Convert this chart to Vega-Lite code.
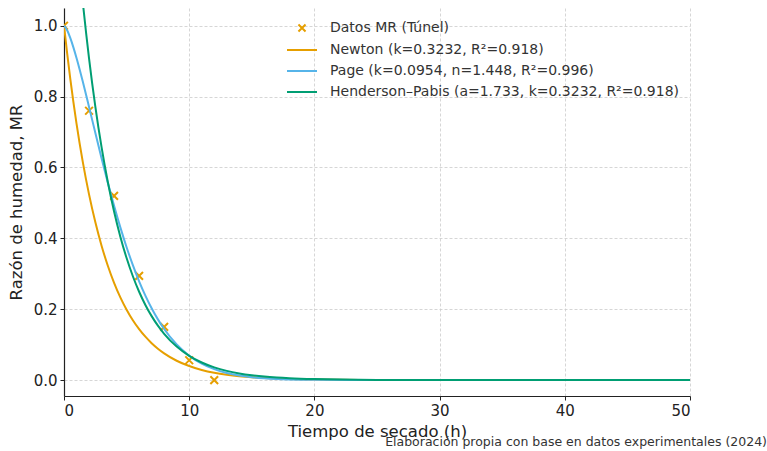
{
  "$schema": "https://vega.github.io/schema/vega-lite/v6.json",
  "width": 626,
  "height": 388,
  "autosize": "none",
  "padding": {"left": 64, "top": 8, "right": 77, "bottom": 55},
  "background": "white",
  "config": {
    "font": "DejaVu Sans",
    "view": {"stroke": null},
    "axis": {
      "labelFont": "DejaVu Sans", "titleFont": "DejaVu Sans",
      "labelFontSize": 15, "titleFontSize": 16.5, "titleFontWeight": "normal",
      "labelColor": "#222", "titleColor": "#222",
      "domainColor": "#222", "domainWidth": 1.2, "tickColor": "#222", "tickSize": 4, "tickWidth": 1,
      "gridColor": "#cccccc", "gridDash": [3, 2], "gridWidth": 0.8
    }
  },
  "title": {
    "text": "Elaboración propia con base en datos experimentales (2024)",
    "orient": "bottom", "anchor": "end", "frame": "group",
    "fontSize": 12.5, "fontWeight": "normal", "color": "#333", "font": "DejaVu Sans",
    "dx": 77, "offset": -4
  },
  "datasets": {
    "obs": [
      {"t": 0, "mr": 1.0, "series": "Datos MR (Túnel)"},
      {"t": 2, "mr": 0.76, "series": "Datos MR (Túnel)"},
      {"t": 4, "mr": 0.52, "series": "Datos MR (Túnel)"},
      {"t": 6, "mr": 0.294, "series": "Datos MR (Túnel)"},
      {"t": 8, "mr": 0.15, "series": "Datos MR (Túnel)"},
      {"t": 10, "mr": 0.056, "series": "Datos MR (Túnel)"},
      {"t": 12, "mr": 0.0, "series": "Datos MR (Túnel)"}
    ],
    "fit": [
      {"t": 0, "mr": 1.0, "series": "Newton (k=0.3232, R²=0.918)"},
      {"t": 0.25, "mr": 0.9224, "series": "Newton (k=0.3232, R²=0.918)"},
      {"t": 0.5, "mr": 0.8508, "series": "Newton (k=0.3232, R²=0.918)"},
      {"t": 1, "mr": 0.7238, "series": "Newton (k=0.3232, R²=0.918)"},
      {"t": 1.5, "mr": 0.6158, "series": "Newton (k=0.3232, R²=0.918)"},
      {"t": 2, "mr": 0.5239, "series": "Newton (k=0.3232, R²=0.918)"},
      {"t": 2.5, "mr": 0.4458, "series": "Newton (k=0.3232, R²=0.918)"},
      {"t": 3, "mr": 0.3792, "series": "Newton (k=0.3232, R²=0.918)"},
      {"t": 3.5, "mr": 0.3226, "series": "Newton (k=0.3232, R²=0.918)"},
      {"t": 4, "mr": 0.2745, "series": "Newton (k=0.3232, R²=0.918)"},
      {"t": 4.5, "mr": 0.2335, "series": "Newton (k=0.3232, R²=0.918)"},
      {"t": 5, "mr": 0.1987, "series": "Newton (k=0.3232, R²=0.918)"},
      {"t": 5.5, "mr": 0.1690, "series": "Newton (k=0.3232, R²=0.918)"},
      {"t": 6, "mr": 0.1438, "series": "Newton (k=0.3232, R²=0.918)"},
      {"t": 6.5, "mr": 0.1224, "series": "Newton (k=0.3232, R²=0.918)"},
      {"t": 7, "mr": 0.1041, "series": "Newton (k=0.3232, R²=0.918)"},
      {"t": 7.5, "mr": 0.0886, "series": "Newton (k=0.3232, R²=0.918)"},
      {"t": 8, "mr": 0.0754, "series": "Newton (k=0.3232, R²=0.918)"},
      {"t": 9, "mr": 0.0545, "series": "Newton (k=0.3232, R²=0.918)"},
      {"t": 10, "mr": 0.0395, "series": "Newton (k=0.3232, R²=0.918)"},
      {"t": 11, "mr": 0.0286, "series": "Newton (k=0.3232, R²=0.918)"},
      {"t": 12, "mr": 0.0207, "series": "Newton (k=0.3232, R²=0.918)"},
      {"t": 13, "mr": 0.0150, "series": "Newton (k=0.3232, R²=0.918)"},
      {"t": 14, "mr": 0.0108, "series": "Newton (k=0.3232, R²=0.918)"},
      {"t": 15, "mr": 0.0078, "series": "Newton (k=0.3232, R²=0.918)"},
      {"t": 16, "mr": 0.0057, "series": "Newton (k=0.3232, R²=0.918)"},
      {"t": 17, "mr": 0.0041, "series": "Newton (k=0.3232, R²=0.918)"},
      {"t": 18, "mr": 0.0030, "series": "Newton (k=0.3232, R²=0.918)"},
      {"t": 20, "mr": 0.0016, "series": "Newton (k=0.3232, R²=0.918)"},
      {"t": 25, "mr": 0.0003, "series": "Newton (k=0.3232, R²=0.918)"},
      {"t": 30, "mr": 0.0001, "series": "Newton (k=0.3232, R²=0.918)"},
      {"t": 40, "mr": 0.0, "series": "Newton (k=0.3232, R²=0.918)"},
      {"t": 50, "mr": 0.0, "series": "Newton (k=0.3232, R²=0.918)"},
      {"t": 0, "mr": 1.0, "series": "Page (k=0.0954, n=1.448, R²=0.996)"},
      {"t": 0.25, "mr": 0.9873, "series": "Page (k=0.0954, n=1.448, R²=0.996)"},
      {"t": 0.5, "mr": 0.9656, "series": "Page (k=0.0954, n=1.448, R²=0.996)"},
      {"t": 0.75, "mr": 0.9390, "series": "Page (k=0.0954, n=1.448, R²=0.996)"},
      {"t": 1, "mr": 0.9090, "series": "Page (k=0.0954, n=1.448, R²=0.996)"},
      {"t": 1.25, "mr": 0.8765, "series": "Page (k=0.0954, n=1.448, R²=0.996)"},
      {"t": 1.5, "mr": 0.8423, "series": "Page (k=0.0954, n=1.448, R²=0.996)"},
      {"t": 2, "mr": 0.7708, "series": "Page (k=0.0954, n=1.448, R²=0.996)"},
      {"t": 2.5, "mr": 0.6980, "series": "Page (k=0.0954, n=1.448, R²=0.996)"},
      {"t": 3, "mr": 0.6261, "series": "Page (k=0.0954, n=1.448, R²=0.996)"},
      {"t": 3.5, "mr": 0.5570, "series": "Page (k=0.0954, n=1.448, R²=0.996)"},
      {"t": 4, "mr": 0.4916, "series": "Page (k=0.0954, n=1.448, R²=0.996)"},
      {"t": 4.5, "mr": 0.4308, "series": "Page (k=0.0954, n=1.448, R²=0.996)"},
      {"t": 5, "mr": 0.3749, "series": "Page (k=0.0954, n=1.448, R²=0.996)"},
      {"t": 5.5, "mr": 0.3243, "series": "Page (k=0.0954, n=1.448, R²=0.996)"},
      {"t": 6, "mr": 0.2788, "series": "Page (k=0.0954, n=1.448, R²=0.996)"},
      {"t": 6.5, "mr": 0.2383, "series": "Page (k=0.0954, n=1.448, R²=0.996)"},
      {"t": 7, "mr": 0.2025, "series": "Page (k=0.0954, n=1.448, R²=0.996)"},
      {"t": 7.5, "mr": 0.1712, "series": "Page (k=0.0954, n=1.448, R²=0.996)"},
      {"t": 8, "mr": 0.1440, "series": "Page (k=0.0954, n=1.448, R²=0.996)"},
      {"t": 9, "mr": 0.1005, "series": "Page (k=0.0954, n=1.448, R²=0.996)"},
      {"t": 10, "mr": 0.0688, "series": "Page (k=0.0954, n=1.448, R²=0.996)"},
      {"t": 11, "mr": 0.0463, "series": "Page (k=0.0954, n=1.448, R²=0.996)"},
      {"t": 12, "mr": 0.0307, "series": "Page (k=0.0954, n=1.448, R²=0.996)"},
      {"t": 13, "mr": 0.0200, "series": "Page (k=0.0954, n=1.448, R²=0.996)"},
      {"t": 14, "mr": 0.0128, "series": "Page (k=0.0954, n=1.448, R²=0.996)"},
      {"t": 15, "mr": 0.0081, "series": "Page (k=0.0954, n=1.448, R²=0.996)"},
      {"t": 16, "mr": 0.0051, "series": "Page (k=0.0954, n=1.448, R²=0.996)"},
      {"t": 17, "mr": 0.0031, "series": "Page (k=0.0954, n=1.448, R²=0.996)"},
      {"t": 18, "mr": 0.0019, "series": "Page (k=0.0954, n=1.448, R²=0.996)"},
      {"t": 20, "mr": 0.0007, "series": "Page (k=0.0954, n=1.448, R²=0.996)"},
      {"t": 25, "mr": 0.0, "series": "Page (k=0.0954, n=1.448, R²=0.996)"},
      {"t": 30, "mr": 0.0, "series": "Page (k=0.0954, n=1.448, R²=0.996)"},
      {"t": 40, "mr": 0.0, "series": "Page (k=0.0954, n=1.448, R²=0.996)"},
      {"t": 50, "mr": 0.0, "series": "Page (k=0.0954, n=1.448, R²=0.996)"},
      {"t": 0, "mr": 1.733, "series": "Henderson–Pabis (a=1.733, k=0.3232, R²=0.918)"},
      {"t": 0.5, "mr": 1.4744, "series": "Henderson–Pabis (a=1.733, k=0.3232, R²=0.918)"},
      {"t": 1, "mr": 1.2544, "series": "Henderson–Pabis (a=1.733, k=0.3232, R²=0.918)"},
      {"t": 1.5, "mr": 1.0672, "series": "Henderson–Pabis (a=1.733, k=0.3232, R²=0.918)"},
      {"t": 2, "mr": 0.9080, "series": "Henderson–Pabis (a=1.733, k=0.3232, R²=0.918)"},
      {"t": 2.5, "mr": 0.7725, "series": "Henderson–Pabis (a=1.733, k=0.3232, R²=0.918)"},
      {"t": 3, "mr": 0.6572, "series": "Henderson–Pabis (a=1.733, k=0.3232, R²=0.918)"},
      {"t": 3.5, "mr": 0.5591, "series": "Henderson–Pabis (a=1.733, k=0.3232, R²=0.918)"},
      {"t": 4, "mr": 0.4757, "series": "Henderson–Pabis (a=1.733, k=0.3232, R²=0.918)"},
      {"t": 4.5, "mr": 0.4047, "series": "Henderson–Pabis (a=1.733, k=0.3232, R²=0.918)"},
      {"t": 5, "mr": 0.3443, "series": "Henderson–Pabis (a=1.733, k=0.3232, R²=0.918)"},
      {"t": 5.5, "mr": 0.2930, "series": "Henderson–Pabis (a=1.733, k=0.3232, R²=0.918)"},
      {"t": 6, "mr": 0.2492, "series": "Henderson–Pabis (a=1.733, k=0.3232, R²=0.918)"},
      {"t": 6.5, "mr": 0.2120, "series": "Henderson–Pabis (a=1.733, k=0.3232, R²=0.918)"},
      {"t": 7, "mr": 0.1804, "series": "Henderson–Pabis (a=1.733, k=0.3232, R²=0.918)"},
      {"t": 7.5, "mr": 0.1535, "series": "Henderson–Pabis (a=1.733, k=0.3232, R²=0.918)"},
      {"t": 8, "mr": 0.1306, "series": "Henderson–Pabis (a=1.733, k=0.3232, R²=0.918)"},
      {"t": 9, "mr": 0.0945, "series": "Henderson–Pabis (a=1.733, k=0.3232, R²=0.918)"},
      {"t": 10, "mr": 0.0684, "series": "Henderson–Pabis (a=1.733, k=0.3232, R²=0.918)"},
      {"t": 11, "mr": 0.0495, "series": "Henderson–Pabis (a=1.733, k=0.3232, R²=0.918)"},
      {"t": 12, "mr": 0.0358, "series": "Henderson–Pabis (a=1.733, k=0.3232, R²=0.918)"},
      {"t": 13, "mr": 0.0259, "series": "Henderson–Pabis (a=1.733, k=0.3232, R²=0.918)"},
      {"t": 14, "mr": 0.0188, "series": "Henderson–Pabis (a=1.733, k=0.3232, R²=0.918)"},
      {"t": 15, "mr": 0.0136, "series": "Henderson–Pabis (a=1.733, k=0.3232, R²=0.918)"},
      {"t": 16, "mr": 0.0098, "series": "Henderson–Pabis (a=1.733, k=0.3232, R²=0.918)"},
      {"t": 17, "mr": 0.0071, "series": "Henderson–Pabis (a=1.733, k=0.3232, R²=0.918)"},
      {"t": 18, "mr": 0.0051, "series": "Henderson–Pabis (a=1.733, k=0.3232, R²=0.918)"},
      {"t": 20, "mr": 0.0027, "series": "Henderson–Pabis (a=1.733, k=0.3232, R²=0.918)"},
      {"t": 25, "mr": 0.0005, "series": "Henderson–Pabis (a=1.733, k=0.3232, R²=0.918)"},
      {"t": 30, "mr": 0.0001, "series": "Henderson–Pabis (a=1.733, k=0.3232, R²=0.918)"},
      {"t": 40, "mr": 0.0, "series": "Henderson–Pabis (a=1.733, k=0.3232, R²=0.918)"},
      {"t": 50, "mr": 0.0, "series": "Henderson–Pabis (a=1.733, k=0.3232, R²=0.918)"}
    ]
  },
  "encoding": {
    "x": {
      "field": "t", "type": "quantitative",
      "scale": {"domain": [0, 50], "nice": false, "zero": false},
      "axis": {"title": "Tiempo de secado (h)", "values": [0, 10, 20, 30, 40, 50], "labelPadding": 3, "titlePadding": 5}
    },
    "y": {
      "field": "mr", "type": "quantitative",
      "scale": {"domain": [-0.045, 1.05], "nice": false, "zero": false},
      "axis": {"title": "Razón de humedad, MR", "values": [0, 0.2, 0.4, 0.6, 0.8, 1.0], "format": ".1f", "labelPadding": 3, "titlePadding": 9}
    },
    "color": {
      "field": "series", "type": "nominal",
      "scale": {
        "domain": ["Datos MR (Túnel)", "Newton (k=0.3232, R²=0.918)", "Page (k=0.0954, n=1.448, R²=0.996)", "Henderson–Pabis (a=1.733, k=0.3232, R²=0.918)"],
        "range": ["#E69F00", "#E69F00", "#56B4E9", "#009E73"]
      },
      "legend": {
        "title": null, "orient": "none", "legendX": 231, "legendY": 13,
        "labelFont": "DejaVu Sans", "labelFontSize": 14, "labelColor": "#333", "labelLimit": 0,
        "rowPadding": 7, "symbolStrokeWidth": 2, "labelOffset": 21, "symbolSize": 100,
        "encode": {
          "symbols": {
            "update": {
              "shape": {"signal": "datum.value == 'Datos MR (Túnel)' ? 'M-1,-1L1,1M-1,1L1,-1' : 'M-3,0L3,0'"},
              "size": {"signal": "datum.value == 'Datos MR (Túnel)' ? 50 : 100"},
              "fill": {"value": "transparent"},
              "strokeWidth": {"value": 2}
            }
          }
        }
      }
    }
  },
  "layer": [
    {
      "data": {"name": "obs"},
      "mark": {"type": "point", "shape": "M-1,-1L1,1M-1,1L1,-1", "filled": false, "size": 60, "strokeWidth": 2, "opacity": 1, "clip": true}
    },
    {
      "data": {"name": "fit"},
      "mark": {"type": "line", "strokeWidth": 2, "clip": true, "interpolate": "monotone"}
    }
  ]
}
